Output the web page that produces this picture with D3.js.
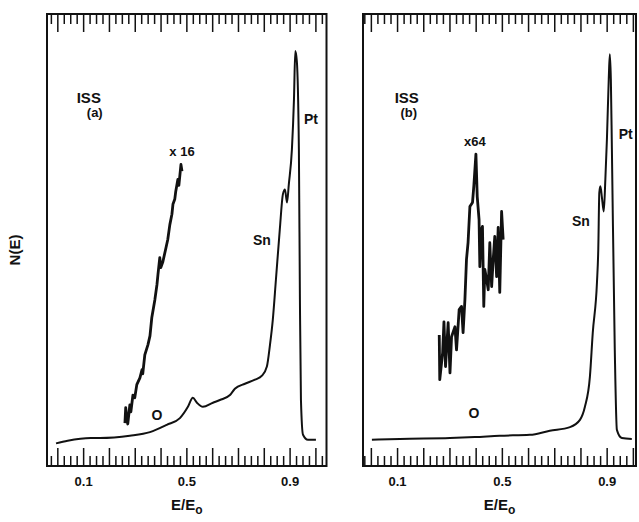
<!DOCTYPE html>
<html>
<head>
<meta charset="utf-8">
<script src="https://cdn.jsdelivr.net/npm/d3@7"></script>
<style>
  body { margin: 0; background: #fff; }
  svg { display: block; }
  text { font-family: "Liberation Sans", Arial, sans-serif; font-weight: bold; fill: #111; }
</style>
</head>
<body>
<script>
// E/E0 and N(E) (arbitrary units, 0-100)
const mainA = [
  [-0.005, 5.0], [0.04, 5.6], [0.13, 6.2], [0.165, 6.2], [0.281, 6.7], [0.359, 7.5], [0.424, 9.1],
  [0.475, 10.6], [0.506, 13.1], [0.525, 15.1], [0.541, 14.0], [0.564, 13.1], [0.603, 14.0],
  [0.63, 14.6], [0.669, 15.7], [0.688, 17.1], [0.727, 18.2], [0.766, 19.1], [0.793, 20.0],
  [0.812, 22.0], [0.824, 26.8], [0.835, 32.4], [0.847, 41.2], [0.862, 52.3], [0.874, 60.1],
  [0.882, 61.2], [0.89, 58.3], [0.897, 62.3], [0.909, 70.1], [0.917, 81.2], [0.922, 91.8],
  [0.928, 89.6], [0.936, 70.1], [0.94, 36.8], [0.944, 14.6], [0.952, 6.9], [0.971, 5.8], [1.002, 5.8]
];
const zoomA = [
  [0.262, 9.5], [0.265, 12.9], [0.269, 10.6], [0.273, 9.3], [0.281, 13.5], [0.285, 12.0],
  [0.293, 15.7], [0.3, 15.1], [0.308, 18.0], [0.32, 19.5], [0.328, 21.3], [0.331, 20.4],
  [0.339, 24.6], [0.351, 26.8], [0.359, 28.8], [0.366, 32.8], [0.378, 36.8], [0.386, 40.1],
  [0.39, 42.4], [0.397, 46.1], [0.401, 43.9], [0.409, 45.2], [0.421, 48.3], [0.428, 50.1],
  [0.436, 53.4], [0.444, 55.7], [0.448, 57.9], [0.455, 59.0], [0.459, 60.8], [0.467, 63.4],
  [0.471, 62.1], [0.479, 66.7], [0.483, 65.2]
];
const mainB = [
  [0.004, 5.8], [0.111, 6.0], [0.302, 6.2], [0.397, 6.4], [0.492, 6.7], [0.607, 6.9],
  [0.683, 7.8], [0.76, 8.6], [0.798, 10.2], [0.817, 13.1], [0.836, 19.7], [0.847, 29.5],
  [0.863, 40.6], [0.868, 47.9], [0.872, 60.5], [0.876, 61.9], [0.882, 59.4], [0.889, 56.3],
  [0.895, 63.4], [0.901, 72.3], [0.908, 85.6], [0.912, 91.1], [0.916, 85.6], [0.92, 70.1],
  [0.931, 25.7], [0.939, 8.0], [0.958, 6.2], [0.996, 6.0]
];
const zoomB = [
  [0.261, 29.0], [0.263, 19.1], [0.274, 25.1], [0.279, 31.9], [0.285, 22.0], [0.295, 31.7],
  [0.302, 20.6], [0.308, 28.6], [0.321, 30.8], [0.327, 25.7], [0.337, 34.6], [0.346, 35.3],
  [0.352, 29.5], [0.359, 36.8], [0.365, 45.7], [0.371, 49.4], [0.378, 57.4], [0.388, 58.3],
  [0.393, 61.9], [0.401, 69.0], [0.406, 59.6], [0.413, 54.5], [0.416, 44.1], [0.422, 52.3],
  [0.426, 53.0], [0.431, 35.3], [0.435, 43.5], [0.442, 41.2], [0.448, 39.0], [0.454, 49.4],
  [0.461, 39.7], [0.467, 45.7], [0.473, 50.8], [0.48, 41.9], [0.486, 52.8], [0.492, 38.4],
  [0.499, 56.3], [0.505, 50.1]
];
const tickLabels = [0.1, 0.5, 0.9];
const notesA = [
  { t: 'ISS', e: 0.122, v: 81.6, s: 15 }, { t: '(a)', e: 0.145, v: 78.3, s: 13 },
  { t: 'x 16', e: 0.483, v: 69.6, s: 13 }, { t: 'Pt', e: 0.983, v: 76.7, s: 14 },
  { t: 'Sn', e: 0.793, v: 49.9, s: 14 }, { t: 'O', e: 0.386, v: 11.3, s: 14 }
];
const notesB = [
  { t: 'ISS', e: 0.137, v: 81.6, s: 15 }, { t: '(b)', e: 0.145, v: 78.3, s: 13 },
  { t: 'x64', e: 0.397, v: 71.8, s: 13 }, { t: 'Pt', e: 0.973, v: 73.4, s: 14 },
  { t: 'Sn', e: 0.802, v: 54.1, s: 14 }, { t: 'O', e: 0.393, v: 11.8, s: 14 }
];

const width = 639, height = 522;
const plotTop = 14, plotBottom = 466;

const svg = d3.select('body').append('svg')
  .attr('width', width)
  .attr('height', height);

const y = d3.scaleLinear().domain([0, 100]).range([plotBottom, plotTop]);

function drawPanel(left, right, domain, main, zoomed, notes) {
  const x = d3.scaleLinear().domain(domain).range([left, right]);
  const g = svg.append('g');

  const minor = d3.range(-0.025, domain[1] + 1e-6, 0.025).filter(v => v > domain[0]);
  const major = minor.filter(v => Math.abs(Math.round(v * 10) - v * 10) < 1e-6 && v >= 0);
  const minorOnly = minor.filter(v => !major.includes(v));

  // ticks point into the frame, on top and bottom
  [[d3.axisBottom, plotTop], [d3.axisTop, plotBottom]].forEach(([axisFn, yPos]) => {
    [[minorOnly, 10], [major, 18]].forEach(([vals, size]) => {
      g.append('g')
        .attr('transform', 'translate(0,' + yPos + ')')
        .call(axisFn(x).tickValues(vals).tickSize(size).tickFormat(''))
        .call(a => a.select('.domain').remove())
        .call(a => a.selectAll('line').attr('stroke', '#111').attr('stroke-width', 1.5));
    });
  });

  g.append('g')
    .attr('transform', 'translate(0,' + plotBottom + ')')
    .call(d3.axisBottom(x).tickValues(tickLabels).tickSize(0).tickPadding(11).tickFormat(d3.format('.1f')))
    .call(a => a.select('.domain').remove())
    .call(a => a.selectAll('text').attr('font-size', 13).attr('fill', '#111')
      .style('font-family', '"Liberation Sans", Arial, sans-serif').style('font-weight', 'bold'));

  g.append('rect')
    .attr('x', left).attr('y', plotTop)
    .attr('width', right - left).attr('height', plotBottom - plotTop)
    .attr('fill', 'none').attr('stroke', '#111').attr('stroke-width', 2);

  const line = d3.line().x(d => x(d[0])).y(d => y(d[1]));

  g.append('path').attr('d', line.curve(d3.curveMonotoneX)(main))
    .attr('fill', 'none').attr('stroke', '#111').attr('stroke-width', 2)
    .attr('stroke-linejoin', 'round');
  g.append('path').attr('d', line.curve(d3.curveLinear)(zoomed))
    .attr('fill', 'none').attr('stroke', '#111').attr('stroke-width', 2.8)
    .attr('stroke-linejoin', 'round');

  g.selectAll('text.note').data(notes).enter().append('text')
    .attr('class', 'note')
    .attr('x', d => x(d.e)).attr('y', d => y(d.v))
    .attr('text-anchor', 'middle').attr('dominant-baseline', 'central')
    .attr('font-size', d => d.s)
    .text(d => d.t);

  const lbl = g.append('text')
    .attr('x', (left + right) / 2).attr('y', 510)
    .attr('text-anchor', 'middle').attr('font-size', 15);
  lbl.append('tspan').text('E/E');
  lbl.append('tspan').attr('dy', 4).attr('font-size', 12).text('o');
}

drawPanel(47, 326.5, [-0.04, 1.043], mainA, zoomA, notesA);
drawPanel(363, 636, [-0.03, 1.012], mainB, zoomB, notesB);

svg.append('text')
  .attr('transform', 'translate(20,250) rotate(-90)')
  .attr('text-anchor', 'middle')
  .attr('font-size', 15)
  .text('N(E)');
</script>
</body>
</html>
